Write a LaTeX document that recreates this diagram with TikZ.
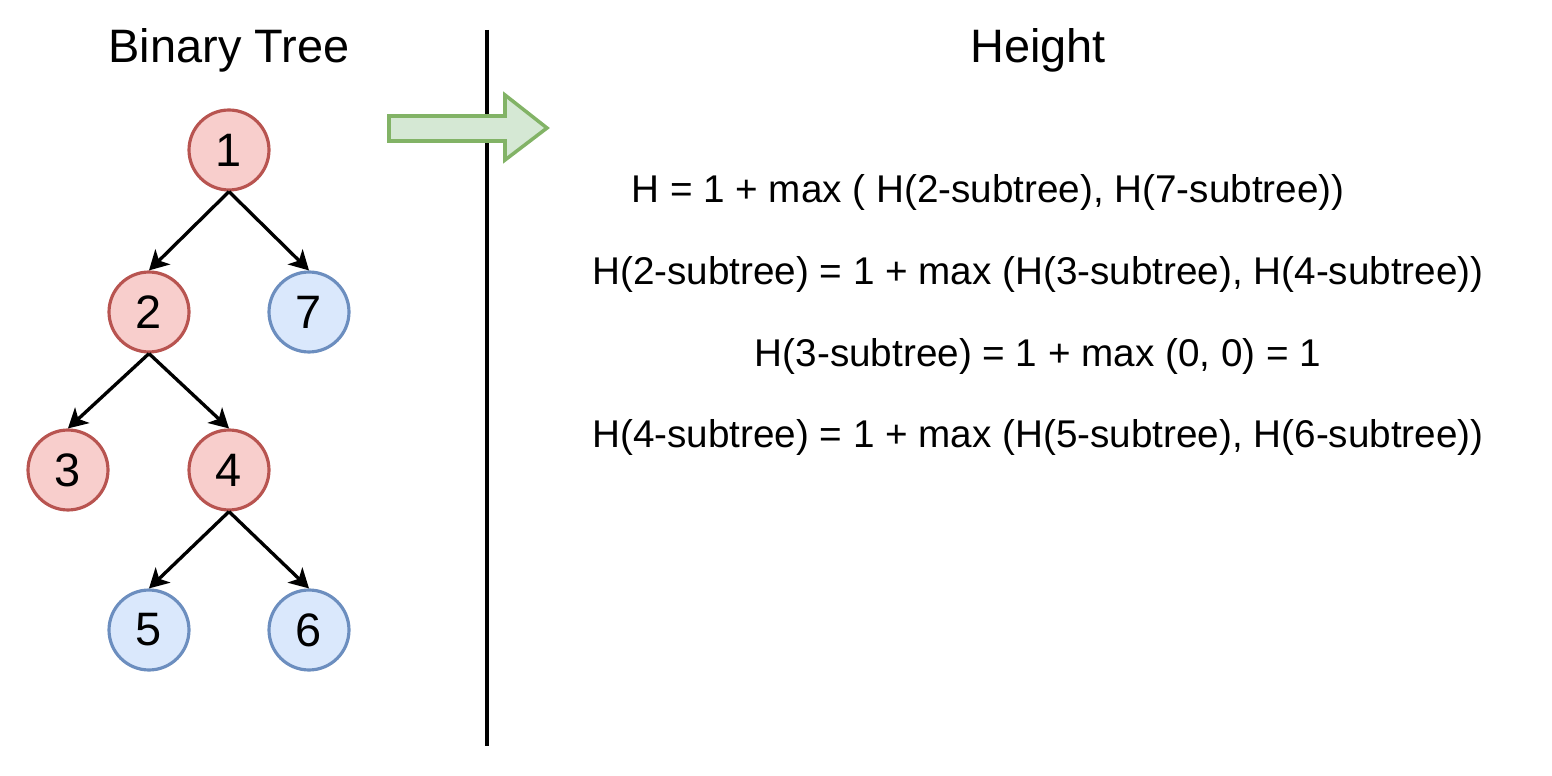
\documentclass[tikz,border=0pt]{standalone}
\usepackage{fontspec}
\setmainfont{Liberation Sans}
\usepackage{tikz}
\usetikzlibrary{positioning, arrows.meta}

\definecolor{redline}{HTML}{B85450}
\definecolor{redfill}{HTML}{F8CECC}
\definecolor{blueline}{HTML}{6C8EBF}
\definecolor{bluefill}{HTML}{DAE8FC}
\definecolor{greenline}{HTML}{82B366}
\definecolor{greenfill}{HTML}{D5E8D4}

\begin{document}
\begin{tikzpicture}[
        x=0.02cm, y=-0.02cm,
        >={Stealth[length=11pt, width=12pt, inset=3pt]},
        tnode/.style={circle, minimum size=1.6cm, inner sep=0pt, line width=1.8pt,
            font=\fontsize{26.7}{32}\selectfont},
        rednode/.style={tnode, draw=redline, fill=redfill},
        bluenode/.style={tnode, draw=blueline, fill=bluefill},
        edge/.style={->, line width=1.9pt},
        title/.style={font=\fontsize{26.7}{32}\selectfont},
        formula/.style={font=\fontsize{22}{26}\selectfont}
    ]
    \useasboundingbox (0,0) rectangle (1552,776);

    % Titles
    \node[title] (ttree) at (229,50) {Binary Tree};
    \node[title] (theight) at (1038,50) {Height};

    % Divider and green arrow
    \coordinate (dtop) at (487,30);
    \coordinate (dbot) at (487,746);
    \draw[line width=2pt] (dtop) -- (dbot);
    \draw[line width=2pt, draw=greenline, fill=greenfill, line join=miter]
        (389,116) -- (505,116) -- (505,95) -- (547,128) -- (505,160)
        -- (505,141) -- (389,141) -- cycle;

    % Tree nodes
    \node[rednode] (n1) at (229,150) {1};
    \node[rednode] (n2) at (149,312) {2};
    \node[bluenode] (n7) at (309,312) {7};
    \node[rednode] (n3) at (68,470) {3};
    \node[rednode] (n4) at (229,470) {4};
    \node[bluenode] (n5) at (149,630) {5};
    \node[bluenode] (n6) at (309,630) {6};

    % Tree edges
    \draw[edge] (n1.south) -- (n2.north);
    \draw[edge] (n1.south) -- (n7.north);
    \draw[edge] (n2.south) -- (n3.north);
    \draw[edge] (n2.south) -- (n4.north);
    \draw[edge] (n4.south) -- (n5.north);
    \draw[edge] (n4.south) -- (n6.north);

    % Formulas
    \node[formula] (f1) at (988,193) {H = 1 + max ( H(2-subtree), H(7-subtree))};
    \node[formula] (f2) at (1038,275) {H(2-subtree) = 1 + max (H(3-subtree), H(4-subtree))};
    \node[formula] (f3) at (1038,356) {H(3-subtree) = 1 + max (0, 0) = 1};
    \node[formula] (f4) at (1038,437) {H(4-subtree) = 1 + max (H(5-subtree), H(6-subtree))};

\end{tikzpicture}
\end{document}
